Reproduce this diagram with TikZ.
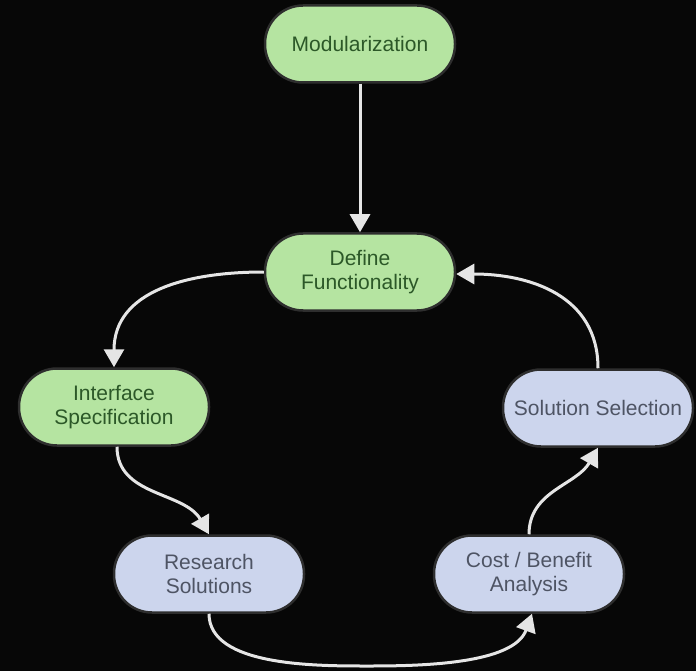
\documentclass[tikz,border=0pt]{standalone}
\usepackage{fontspec}
\setmainfont{Liberation Sans}
\usetikzlibrary{arrows.meta,positioning,calc}
\definecolor{boxgreen}{RGB}{181,228,161}
\definecolor{boxblue}{RGB}{204,213,237}
\definecolor{textgreen}{RGB}{44,88,40}
\definecolor{textblue}{RGB}{78,84,100}
\definecolor{bgdark}{RGB}{7,7,7}
\colorlet{flowgray}{white!90!black}
\tikzstyle{stage}=[draw=black!82, line width=2.5pt, rounded corners=38pt, minimum width=190pt, minimum height=77pt, align=center, font=\fontsize{21}{24.5}\selectfont]

\begin{document}
\begin{tikzpicture}[x=1pt, y=-1pt, greenbox/.style={stage, fill=boxgreen, text=textgreen}, bluebox/.style={stage, fill=boxblue, text=textblue}, flow/.style={flowgray, line width=3pt, -{Triangle[length=18pt,width=20pt]}}]

    % background
    \fill[bgdark] (0,0) rectangle (696,671);
    \useasboundingbox (0,0) rectangle (696,671);

    % design stages
    \node[greenbox] (modul) at (360,44) {Modularization};
    \node[greenbox] (define) at (360,272) {Define\\Functionality};
    \node[greenbox] (iface) at (114,407) {Interface\\Specification};
    \node[bluebox] (select) at (598,408) {Solution Selection};
    \node[bluebox] (research) at (209,574) {Research\\Solutions};
    \node[bluebox] (cost) at (529,574) {Cost / Benefit\\Analysis};
    \coordinate (low) at (370,666);

    % loop
    \draw[flow] (modul) -- (define);
    \draw[flow] (define.west) to[out=180, in=90, looseness=1.1] (iface.north);
    \draw[flow] ([xshift=3pt]iface.south) to[out=-90, in=120] (research.north);
    \draw[flow] (research.south) to[out=-90, in=180, looseness=0.8] (low) to[out=0, in=-110, looseness=0.8] ([xshift=3pt]cost.south);
    \draw[flow] (cost.north) to[out=90, in=-120] (select.south);
    \draw[flow] (select.north) to[out=90, in=0, looseness=1.1] ([yshift=-2pt]define.east);
\end{tikzpicture}
\end{document}
